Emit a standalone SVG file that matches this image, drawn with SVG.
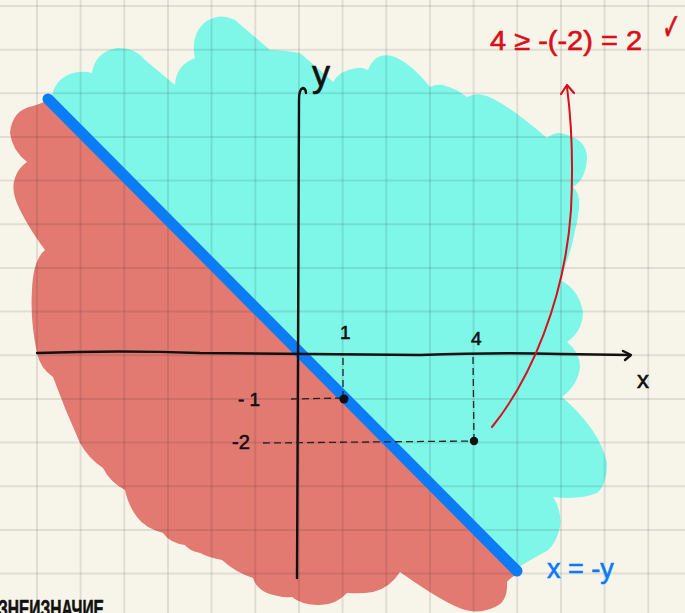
<svg xmlns="http://www.w3.org/2000/svg" width="685" height="613" viewBox="0 0 685 613">
<defs>
<style>
.grid line{stroke:#000;stroke-opacity:0.09;stroke-width:2}
.axis{fill:none;stroke:#111;stroke-width:2.4;stroke-linecap:round;stroke-linejoin:round}
.dash{fill:none;stroke:#222;stroke-width:1.3;stroke-dasharray:7 4}
.lbl{font-family:"Liberation Sans","DejaVu Sans",sans-serif;fill:#111;stroke:#111;stroke-width:0.6}
.red{font-family:"Liberation Sans","DejaVu Sans",sans-serif;fill:#d8101a;stroke:#d8101a;stroke-width:0.6}
.blue{font-family:"Liberation Sans","DejaVu Sans",sans-serif;fill:#0c7bf6;stroke:#0c7bf6;stroke-width:0.6}
</style>
</defs>
<rect width="685" height="613" fill="#f7f5ea"/>
<g id="region-above">
<path fill="#7ef6e8" d="M52,96 Q55,80 70,74 Q82,70 92,73 Q95,52 117,48 Q135,47 145,60 L175,85 Q176,65 195,58 Q190,35 205,22 Q220,12 235,20 L270,50 Q285,50 300,53 Q320,70 333,82 Q340,70 357,68 Q362,67 368,70 Q375,52 392,56 Q410,62 430,87 Q436,84 443,85 Q455,88 467,97 Q475,93 483,95 Q500,98 547,138 Q553,133 560,133 Q588,138 587,160 Q585,180 573,187 Q582,195 578,215 Q577,225 575,230 Q572,250 560,280 Q580,290 583,313 Q582,332 567,342 Q580,352 580,367 Q578,385 562,397 Q600,430 607,463 Q607,485 597,493 Q580,500 553,497 Q562,510 560,527 Q555,548 543,553 Q530,560 517,568 L48,98 Z"/>
</g>
<g id="region-below">
<path fill="#e27a72" d="M46,101 L519,573 Q510,578 507,582 Q508,602 495,607 Q480,614 465,610 Q445,604 400,572 Q390,588 373,592 Q362,594 347,593 Q335,606 317,605 Q300,604 292,597 Q280,598 267,593 Q256,588 253,578 Q235,572 222,560 Q210,558 200,553 Q188,550 185,545 Q170,543 163,533 Q145,528 137,517 Q128,505 125,490 Q110,482 103,468 Q88,458 80,443 Q65,410 53,377 Q40,368 37,353 Q30,320 32,290 Q33,260 45,250 Q30,230 20,210 Q10,190 15,178 Q18,168 27,162 Q12,150 10,133 Q12,110 33,106 Q40,104 46,101 Z"/>
</g>
<g id="grid" class="grid">
<line x1="37" y1="0" x2="37" y2="613"/>
<line x1="80.6" y1="0" x2="80.6" y2="613"/>
<line x1="124.3" y1="0" x2="124.3" y2="613"/>
<line x1="168" y1="0" x2="168" y2="613"/>
<line x1="211.6" y1="0" x2="211.6" y2="613"/>
<line x1="255.3" y1="0" x2="255.3" y2="613"/>
<line x1="299" y1="0" x2="299" y2="613"/>
<line x1="342.6" y1="0" x2="342.6" y2="613"/>
<line x1="386.3" y1="0" x2="386.3" y2="613"/>
<line x1="430" y1="0" x2="430" y2="613"/>
<line x1="473.6" y1="0" x2="473.6" y2="613"/>
<line x1="517.3" y1="0" x2="517.3" y2="613"/>
<line x1="561" y1="0" x2="561" y2="613"/>
<line x1="604.6" y1="0" x2="604.6" y2="613"/>
<line x1="648.3" y1="0" x2="648.3" y2="613"/>
<line x1="0" y1="6" x2="685" y2="6"/>
<line x1="0" y1="49.7" x2="685" y2="49.7"/>
<line x1="0" y1="93.3" x2="685" y2="93.3"/>
<line x1="0" y1="137" x2="685" y2="137"/>
<line x1="0" y1="180.6" x2="685" y2="180.6"/>
<line x1="0" y1="224.3" x2="685" y2="224.3"/>
<line x1="0" y1="268" x2="685" y2="268"/>
<line x1="0" y1="311.6" x2="685" y2="311.6"/>
<line x1="0" y1="355.3" x2="685" y2="355.3"/>
<line x1="0" y1="399" x2="685" y2="399"/>
<line x1="0" y1="442.6" x2="685" y2="442.6"/>
<line x1="0" y1="486.3" x2="685" y2="486.3"/>
<line x1="0" y1="530" x2="685" y2="530"/>
<line x1="0" y1="573.6" x2="685" y2="573.6"/>
</g>
<g id="line-x-eq-neg-y">
<line x1="48" y1="99" x2="517" y2="571" stroke="#0c7bf6" stroke-width="11" stroke-linecap="round"/>
</g>
<g id="axes">
<path class="axis" d="M37,353 Q120,350 200,353 Q300,354 420,355 Q500,352 560,354 L630,355"/>
<path class="axis" d="M623,351 L631,355 L625,360"/>
<path class="axis" d="M297,578 L298,360 L299,100 Q299,89 303,88 Q306,89 306,93"/>
</g>
<g id="connectors">
<path class="dash" d="M343,358 L343,398"/>
<path class="dash" d="M291,399 L343,398"/>
<path class="dash" d="M473,357 L474,441"/>
<path class="dash" d="M263,443 L474,441"/>
<path d="M492,427 C530,380 565,300 571,210 C574,150 570,110 567,87" fill="none" stroke="#d8101a" stroke-width="2" stroke-linecap="round"/>
<path d="M561,94 L567,85 L574,93" fill="none" stroke="#d8101a" stroke-width="2.2" stroke-linecap="round" stroke-linejoin="round"/>
</g>
<g id="points">
<circle cx="344" cy="399" r="4.5" fill="#111"/>
<circle cx="474" cy="441" r="4.2" fill="#111"/>
</g>
<g id="labels">
<text class="lbl" x="312" y="86" font-size="36">y</text>
<text class="lbl" x="637" y="388" font-size="24">x</text>
<text class="lbl" x="340" y="339" font-size="19">1</text>
<text class="lbl" x="471" y="345" font-size="19">4</text>
<text class="lbl" x="238" y="406" font-size="19">- 1</text>
<text class="lbl" x="232" y="449" font-size="20">-2</text>
<text class="blue" x="547" y="578" font-size="27">x = -y</text>
<text class="red" x="490" y="50" font-size="27" textLength="152" lengthAdjust="spacingAndGlyphs">4 ≥ -(-2) = 2</text>
<text class="red" transform="translate(662,40) scale(0.6,1)" x="0" y="0" font-size="38" font-family="DejaVu Sans, sans-serif" stroke-width="0">✓</text>
<text class="lbl" x="-2" y="617" font-size="23" font-weight="bold" textLength="106" lengthAdjust="spacingAndGlyphs">ЗНЕИЗНАЧИЕ</text>
</g>
</svg>
